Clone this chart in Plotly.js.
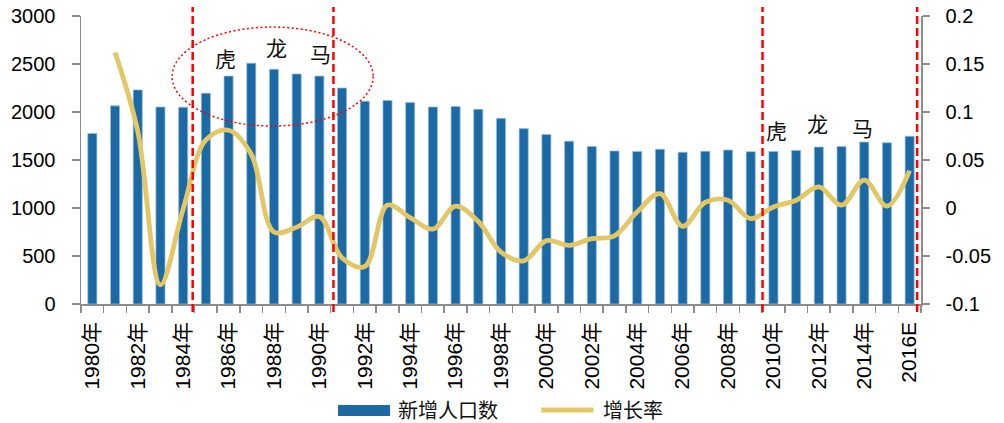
<!DOCTYPE html>
<html>
<head>
<meta charset="utf-8">
<script src="https://cdn.plot.ly/plotly-3.0.1.min.js"></script>
<style>
  html, body { margin: 0; padding: 0; background: #fff; }
  #chart { width: 1004px; height: 423px; }
</style>
</head>
<body>
<div id="chart"></div>
<script>
// Annual new births (10k people) and their year-on-year growth rate, 1980-2016E
const years = ['1980年','1981年','1982年','1983年','1984年','1985年','1986年','1987年','1988年','1989年',
               '1990年','1991年','1992年','1993年','1994年','1995年','1996年','1997年','1998年','1999年',
               '2000年','2001年','2002年','2003年','2004年','2005年','2006年','2007年','2008年','2009年',
               '2010年','2011年','2012年','2013年','2014年','2015年','2016E'];

const births = [1776, 2064, 2230, 2052, 2050, 2196, 2374, 2508, 2445, 2396,
                2374, 2250, 2113, 2120, 2098, 2052, 2057, 2028, 1934, 1827,
                1765, 1696, 1641, 1594, 1588, 1612, 1581, 1591, 1604, 1587,
                1588, 1600, 1635, 1640, 1687, 1680, 1747];

const growth = [null, 0.162, 0.080, -0.080, -0.001, 0.071, 0.081, 0.056, -0.025, -0.020,
                -0.009, -0.052, -0.061, 0.003, -0.010, -0.022, 0.002, -0.014, -0.046, -0.055,
                -0.034, -0.039, -0.032, -0.029, -0.004, 0.015, -0.019, 0.006, 0.008, -0.011,
                0.001, 0.008, 0.022, 0.003, 0.029, 0.002, 0.039];

// every other year is labelled
const xTickText = years.map((y, i) => (i % 2 === 0 ? y : ''));

const rightTickVals = [-0.1, -0.05, 0, 0.05, 0.1, 0.15, 0.2];
const rightTickText = ['-0.1', '-0.05', '0', '0.05', '0.1', '0.15', '0.2'];

// zodiac year markers: [label, category position, value on left axis]
const zodiacMarks = [
  ['虎', 5.88, 2562], ['龙', 8.13, 2677], ['马', 10.07, 2615],
  ['虎', 30.15, 1812], ['龙', 31.95, 1885], ['马', 33.93, 1844]
];
// dashed separators (category positions)
const separators = [4.42, 10.62, 29.52, 36.33];

const barName = '新增人口数';
const lineName = '增长率';
const barColor = '#1B6AA5';
const lineColor = '#E3C766';
const axisColor = '#8C8C8C';
const latinFont = 'Liberation Sans, Arial, Noto Sans CJK SC, sans-serif';
const cjkFont = 'Noto Sans CJK SC, sans-serif';

const traces = [
  {
    type: 'bar', name: barName, x: years, y: births,
    width: 0.4,
    marker: { color: barColor, line: { color: 'rgba(150,190,222,0.9)', width: 0.8 } },
    hoverinfo: 'x+y', showlegend: false
  },
  {
    type: 'scatter', mode: 'lines', name: lineName, x: years, y: growth, yaxis: 'y2',
    line: { color: lineColor, width: 4.8, shape: 'spline', smoothing: 1 },
    connectgaps: false, showlegend: false
  }
];

const shapes = [];
separators.forEach(x => shapes.push({
  type: 'line', xref: 'x', yref: 'paper', x0: x, x1: x, y0: -0.028, y1: 1.031,
  line: { color: '#FF0000', width: 2.5, dash: '8px,4px' }, layer: 'above'
}));
shapes.push({
  type: 'circle', xref: 'x', yref: 'y', x0: 3.51, x1: 12.37, y0: 1854, y1: 2885,
  line: { color: '#FF0000', width: 1.5, dash: '2px,2.5px' }, layer: 'above'
});
// legend swatches
shapes.push({
  type: 'rect', xref: 'paper', yref: 'paper', x0: 0.306, x1: 0.368, y0: -0.389, y1: -0.351,
  fillcolor: barColor, line: { width: 0 }
});
shapes.push({
  type: 'line', xref: 'paper', yref: 'paper', x0: 0.548, x1: 0.610, y0: -0.368, y1: -0.368,
  line: { color: lineColor, width: 5 }
});

const annotations = zodiacMarks.map(([t, x, y]) => ({
  text: t, x: x, y: y, xref: 'x', yref: 'y', showarrow: false,
  font: { family: cjkFont, size: 21, color: '#111' }
}));
annotations.push({
  text: barName, xref: 'paper', yref: 'paper', x: 0.375, y: -0.368,
  xanchor: 'left', yanchor: 'middle', showarrow: false,
  font: { family: cjkFont, size: 20, color: '#111' }
});
annotations.push({
  text: lineName, xref: 'paper', yref: 'paper', x: 0.619, y: -0.368,
  xanchor: 'left', yanchor: 'middle', showarrow: false,
  font: { family: cjkFont, size: 20, color: '#111' }
});

const layout = {
  width: 1004, height: 423,
  margin: { l: 81, r: 83, t: 16, b: 119, pad: 0 },
  paper_bgcolor: '#fff', plot_bgcolor: '#fff',
  showlegend: false,
  bargap: 0.6,
  xaxis: {
    type: 'category', range: [-0.5, 36.5],
    tickmode: 'array', tickvals: years, ticktext: xTickText,
    tickangle: -90, tickson: 'boundaries',
    ticks: 'outside', ticklen: 7, tickwidth: 1.5, tickcolor: axisColor,
    showline: true, linecolor: axisColor, linewidth: 1.5,
    showgrid: false, zeroline: false,
    tickfont: { family: latinFont, size: 21, color: '#000' },
    ticklabelstandoff: 8
  },
  yaxis: {
    range: [0, 3000], tickmode: 'linear', tick0: 0, dtick: 500,
    ticks: 'outside', ticklen: 8, tickwidth: 1.5, tickcolor: axisColor,
    showline: true, linecolor: axisColor, linewidth: 1.5,
    showgrid: false, zeroline: false,
    tickfont: { family: latinFont, size: 20, color: '#000' },
    ticklabelstandoff: 12
  },
  yaxis2: {
    overlaying: 'y', side: 'right', range: [-0.1, 0.2],
    tickmode: 'array', tickvals: rightTickVals, ticktext: rightTickText,
    ticks: 'outside', ticklen: 7, tickwidth: 1.5, tickcolor: axisColor,
    showline: true, linecolor: axisColor, linewidth: 1.5,
    showgrid: false, zeroline: false,
    tickfont: { family: latinFont, size: 20, color: '#000' },
    ticklabelstandoff: 12
  },
  shapes: shapes,
  annotations: annotations
};

Plotly.newPlot('chart', traces, layout, { displayModeBar: false, staticPlot: true });
</script>
</body>
</html>
